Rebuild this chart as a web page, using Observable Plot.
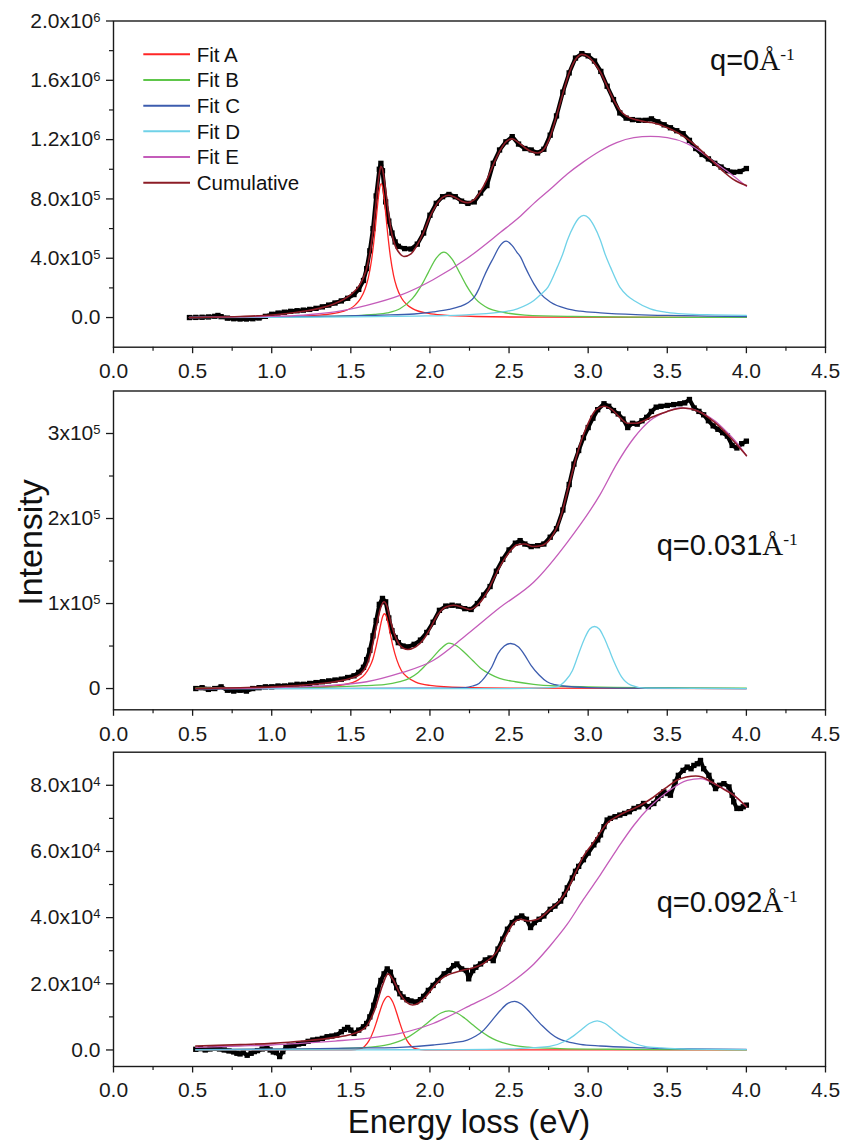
<!DOCTYPE html>
<html><head><meta charset="utf-8">
<script src="https://cdn.jsdelivr.net/npm/d3@7"></script>
<script src="https://cdn.jsdelivr.net/npm/@observablehq/plot@0.6"></script>
<style>
body{margin:0;background:#fff;}
#wrap{position:relative;width:844px;height:1141px;background:#fff;overflow:hidden;}
#wrap svg{position:absolute;left:0;}
svg.pn text{font-size:21px;}
</style></head><body><div id="wrap"></div>
<script>
// ---------- shared axis data ----------
const xTicks = [0, 0.5, 1, 1.5, 2, 2.5, 3, 3.5, 4, 4.5];
const xMinor = [0.25, 0.75, 1.25, 1.75, 2.25, 2.75, 3.25, 3.75, 4.25];
const seriesNames = ["Fit A", "Fit B", "Fit C", "Fit D", "Fit E", "Cumulative"];
const seriesColors = ["#ff2626", "#5ec64a", "#3c5cae", "#70d2e8", "#c45cba", "#8c1c26"];

// ---------- panel 1 : q = 0 (intensity in units of 1e5) ----------
const p1Unit = 1e5;
const p1Label = "q=0";
const p1YTicks = [0, 400000, 800000, 1200000, 1600000, 2000000];
const p1YLabels = ["0.0", "4.0x10^5", "8.0x10^5", "1.2x10^6", "1.6x10^6", "2.0x10^6"];
const p1YMinor = [200000, 600000, 1000000, 1400000, 1800000];
const p1YDomain = [-200000, 2000000];
const p1Data = [[0.48,0.0],[0.52,0.01],[0.56,0.02],[0.60,0.04],[0.64,0.08],[0.66,0.14],[0.68,0.06],[0.72,-0.04],[0.76,-0.08],[0.80,-0.1],[0.84,-0.1],[0.88,-0.08],[0.92,-0.03],[0.96,0.08],[1.00,0.22],[1.04,0.3],[1.08,0.36],[1.12,0.42],[1.16,0.46],[1.20,0.5],[1.24,0.55],[1.28,0.62],[1.32,0.72],[1.36,0.84],[1.40,0.98],[1.44,1.12],[1.48,1.3],[1.52,1.55],[1.55,1.9],[1.58,2.5],[1.60,3.3],[1.62,4.5],[1.64,6.0],[1.66,8.2],[1.68,10.0],[1.69,10.4],[1.70,9.9],[1.72,7.8],[1.74,6.5],[1.76,5.7],[1.78,5.1],[1.80,4.8],[1.84,4.65],[1.88,4.62],[1.92,4.95],[1.96,5.7],[2.00,6.9],[2.04,7.7],[2.08,8.15],[2.12,8.3],[2.16,8.15],[2.20,7.85],[2.24,7.7],[2.28,7.8],[2.32,8.4],[2.36,8.9],[2.40,10.4],[2.44,11.3],[2.48,11.85],[2.52,12.2],[2.56,11.7],[2.60,11.4],[2.64,11.3],[2.68,11.1],[2.72,11.35],[2.76,12.3],[2.80,13.6],[2.84,15.2],[2.88,16.5],[2.92,17.5],[2.96,17.8],[3.00,17.65],[3.04,17.3],[3.08,16.6],[3.12,15.6],[3.16,14.7],[3.20,13.8],[3.24,13.45],[3.28,13.35],[3.32,13.3],[3.36,13.3],[3.40,13.4],[3.44,13.2],[3.48,13.0],[3.52,12.8],[3.56,12.6],[3.60,12.4],[3.64,11.95],[3.68,11.4],[3.72,11.0],[3.76,10.7],[3.80,10.4],[3.84,10.15],[3.88,9.9],[3.92,9.8],[3.96,9.85],[4.00,10.05]];
const p1FitA = [[0.48,0.017],[1.0,0.053],[1.3,0.162],[1.45,0.413],[1.53,0.873],[1.56,1.254],[1.59,1.92],[1.61,2.66],[1.63,3.81],[1.65,5.55],[1.66,6.62],[1.67,7.70],[1.68,8.59],[1.692,9.03],[1.70,8.83],[1.71,8.10],[1.72,7.06],[1.73,5.96],[1.75,4.11],[1.77,2.85],[1.79,2.04],[1.82,1.32],[1.85,0.913],[1.89,0.604],[1.99,0.277],[2.09,0.157],[2.29,0.070],[2.7,0.025],[4.0,0.005]];
const p1FitB = [[0.48,0.017],[1.0,0.036],[1.3,0.067],[1.5,0.118],[1.65,0.207],[1.73,0.316],[1.81,0.59],[1.89,1.29],[1.95,2.24],[1.99,3.05],[2.04,4.01],[2.088,4.41],[2.14,3.94],[2.19,2.97],[2.23,2.17],[2.29,1.24],[2.37,0.62],[2.45,0.38],[2.6,0.17],[2.9,0.07],[3.3,0.03],[4.0,0.012]];
const p1FitC = [[0.48,0.02],[1.0,0.05],[1.4,0.1],[1.7,0.16],[1.9,0.24],[2.02,0.38],[2.12,0.55],[2.19,0.75],[2.24,1.0],[2.28,1.37],[2.31,1.95],[2.34,2.72],[2.37,3.4],[2.40,4.0],[2.44,4.8],[2.482,5.15],[2.52,4.85],[2.55,4.4],[2.573,4.07],[2.60,3.45],[2.63,2.8],[2.657,2.27],[2.70,1.6],[2.763,1.03],[2.868,0.59],[2.95,0.43],[3.078,0.32],[3.3,0.2],[3.5,0.14],[3.75,0.1],[4.0,0.07]];
const p1FitD = [[0.48,0.0],[1.0,0.02],[1.5,0.05],[1.9,0.1],[2.2,0.17],[2.446,0.36],[2.552,0.59],[2.657,1.15],[2.70,1.55],[2.746,2.05],[2.805,3.4],[2.84,4.3],[2.868,5.2],[2.91,6.2],[2.94,6.7],[2.973,6.89],[3.005,6.7],[3.036,6.2],[3.078,5.2],[3.106,4.3],[3.141,3.4],[3.2,2.05],[3.25,1.45],[3.289,1.15],[3.393,0.59],[3.5,0.35],[3.6,0.25],[3.8,0.18],[4.0,0.14]];
const p1FitE = [[0.48,0.0],[0.8,0.04],[1.0,0.08],[1.2,0.17],[1.4,0.38],[1.6,0.82],[1.81,1.49],[2.02,2.55],[2.236,4.0],[2.446,5.75],[2.573,6.85],[2.657,7.7],[2.76,8.65],[2.868,9.68],[2.97,10.5],[3.078,11.25],[3.18,11.8],[3.289,12.13],[3.394,12.22],[3.5,12.13],[3.626,11.73],[3.71,11.2],[3.795,10.5],[3.9,9.7],[4.0,8.85]];
const p1Cum = [[0.48,0.0],[0.6,0.02],[0.8,0.07],[1.0,0.17],[1.1,0.27],[1.2,0.42],[1.3,0.62],[1.4,0.95],[1.45,1.2],[1.5,1.55],[1.55,2.1],[1.58,2.7],[1.60,3.3],[1.62,4.3],[1.64,5.8],[1.66,7.8],[1.68,9.7],[1.69,10.2],[1.70,10.0],[1.72,8.6],[1.74,6.9],[1.76,5.6],[1.78,4.85],[1.80,4.45],[1.835,4.12],[1.88,4.3],[1.92,4.9],[1.96,5.75],[2.0,6.8],[2.04,7.6],[2.08,8.1],[2.12,8.25],[2.16,8.1],[2.2,7.85],[2.24,7.75],[2.28,7.95],[2.32,8.5],[2.36,9.3],[2.40,10.3],[2.44,11.2],[2.48,11.85],[2.52,12.05],[2.56,11.8],[2.60,11.45],[2.64,11.2],[2.68,11.1],[2.72,11.35],[2.76,12.2],[2.80,13.6],[2.84,15.1],[2.88,16.5],[2.92,17.4],[2.96,17.75],[3.00,17.6],[3.04,17.15],[3.08,16.5],[3.12,15.6],[3.16,14.7],[3.20,14.0],[3.24,13.6],[3.28,13.4],[3.32,13.3],[3.36,13.2],[3.40,13.15],[3.44,13.05],[3.50,12.8],[3.56,12.5],[3.62,12.1],[3.68,11.6],[3.74,11.0],[3.80,10.4],[3.86,9.8],[3.92,9.3],[4.0,8.9]];

// ---------- panel 2 : q = 0.031 (units of 1e5) ----------
const p2Unit = 1e5;
const p2Label = "q=0.031";
const p2YTicks = [0, 100000, 200000, 300000];
const p2YLabels = ["0", "1x10^5", "2x10^5", "3x10^5"];
const p2YMinor = [50000, 150000, 250000];
const p2YDomain = [-25000, 350000];
const p2Data = [[0.52,0.0],[0.56,0.01],[0.60,-0.01],[0.64,0.0],[0.68,0.02],[0.72,-0.02],[0.76,-0.03],[0.80,-0.02],[0.84,-0.03],[0.88,0.0],[0.92,0.01],[0.96,0.02],[1.00,0.02],[1.04,0.03],[1.08,0.03],[1.12,0.04],[1.16,0.05],[1.20,0.05],[1.24,0.06],[1.28,0.07],[1.32,0.08],[1.36,0.09],[1.40,0.1],[1.44,0.11],[1.48,0.13],[1.52,0.15],[1.55,0.19],[1.58,0.25],[1.60,0.34],[1.62,0.45],[1.64,0.62],[1.66,0.8],[1.68,0.99],[1.70,1.06],[1.72,1.02],[1.74,0.83],[1.76,0.68],[1.78,0.6],[1.80,0.54],[1.83,0.5],[1.86,0.49],[1.90,0.52],[1.94,0.57],[1.98,0.66],[2.02,0.78],[2.06,0.92],[2.10,0.97],[2.14,0.98],[2.18,0.97],[2.22,0.94],[2.26,0.93],[2.30,1.0],[2.34,1.1],[2.38,1.2],[2.42,1.38],[2.46,1.52],[2.50,1.63],[2.54,1.71],[2.57,1.74],[2.60,1.70],[2.64,1.67],[2.68,1.68],[2.72,1.70],[2.76,1.78],[2.80,1.88],[2.84,2.1],[2.88,2.4],[2.91,2.64],[2.94,2.8],[2.97,2.95],[3.00,3.07],[3.03,3.18],[3.06,3.28],[3.10,3.35],[3.13,3.32],[3.16,3.27],[3.19,3.23],[3.22,3.17],[3.25,3.07],[3.28,3.12],[3.31,3.11],[3.34,3.15],[3.37,3.19],[3.40,3.26],[3.43,3.31],[3.46,3.32],[3.50,3.33],[3.54,3.34],[3.58,3.35],[3.61,3.36],[3.64,3.40],[3.67,3.30],[3.70,3.26],[3.73,3.22],[3.76,3.15],[3.79,3.09],[3.82,3.05],[3.85,3.01],[3.88,2.97],[3.91,2.86],[3.94,2.83],[3.97,2.88],[4.00,2.91]];
const p2FitA = [[0.52,0.002],[1.0,0.006],[1.3,0.018],[1.45,0.043],[1.55,0.105],[1.59,0.17],[1.62,0.26],[1.64,0.35],[1.66,0.50],[1.673,0.61],[1.683,0.70],[1.693,0.79],[1.703,0.856],[1.713,0.88],[1.723,0.856],[1.733,0.79],[1.743,0.70],[1.753,0.61],[1.766,0.50],[1.79,0.34],[1.82,0.21],[1.86,0.13],[1.91,0.075],[2.0,0.037],[2.2,0.013],[2.6,0.004],[4.0,0.0]];
const p2FitB = [[0.52,0.005],[1.0,0.01],[1.4,0.02],[1.6,0.035],[1.71,0.045],[1.81,0.08],[1.87,0.12],[1.92,0.18],[1.97,0.27],[2.02,0.37],[2.07,0.47],[2.12,0.535],[2.17,0.5],[2.22,0.42],[2.27,0.33],[2.32,0.24],[2.38,0.17],[2.44,0.12],[2.54,0.08],[2.655,0.05],[2.8,0.03],[3.0,0.02],[3.5,0.01],[4.0,0.005]];
const p2FitC = [[0.52,0.0],[1.5,0.002],[2.0,0.004],[2.225,0.012],[2.27,0.03],[2.31,0.06],[2.35,0.14],[2.39,0.25],[2.43,0.41],[2.47,0.5],[2.51,0.53],[2.56,0.49],[2.60,0.39],[2.64,0.27],[2.69,0.16],[2.74,0.08],[2.79,0.045],[2.84,0.03],[3.0,0.012],[3.4,0.004],[4.0,0.0]];
const p2FitD = [[0.52,0.0],[2.5,0.0],[2.75,0.01],[2.8,0.02],[2.86,0.1],[2.90,0.21],[2.94,0.41],[2.98,0.6],[3.01,0.7],[3.04,0.73],[3.07,0.7],[3.10,0.6],[3.13,0.47],[3.16,0.33],[3.21,0.14],[3.27,0.04],[3.36,0.005],[4.0,0.0]];
const p2FitE = [[0.52,0.0],[1.0,0.01],[1.39,0.04],[1.60,0.08],[1.81,0.18],[2.02,0.33],[2.23,0.63],[2.44,0.95],[2.655,1.25],[2.868,1.72],[3.078,2.29],[3.18,2.64],[3.29,2.95],[3.39,3.15],[3.5,3.26],[3.58,3.30],[3.65,3.29],[3.71,3.25],[3.8,3.15],[3.87,3.03],[3.94,2.89],[4.0,2.74]];
const p2Cum = [[0.52,0.0],[0.8,0.01],[1.0,0.02],[1.2,0.04],[1.4,0.08],[1.5,0.12],[1.56,0.17],[1.60,0.27],[1.63,0.45],[1.66,0.72],[1.69,0.96],[1.71,1.02],[1.73,0.96],[1.75,0.8],[1.78,0.62],[1.81,0.51],[1.86,0.46],[1.91,0.49],[1.96,0.58],[2.0,0.7],[2.05,0.87],[2.1,0.96],[2.15,0.98],[2.2,0.96],[2.25,0.93],[2.3,0.98],[2.35,1.1],[2.4,1.28],[2.45,1.46],[2.5,1.6],[2.55,1.69],[2.6,1.7],[2.65,1.67],[2.7,1.68],[2.76,1.76],[2.82,1.98],[2.88,2.4],[2.94,2.82],[3.0,3.12],[3.05,3.28],[3.1,3.32],[3.15,3.28],[3.2,3.19],[3.25,3.12],[3.3,3.12],[3.4,3.19],[3.5,3.26],[3.6,3.30],[3.7,3.26],[3.8,3.13],[3.9,2.95],[4.0,2.74]];

// ---------- panel 3 : q = 0.092 (units of 1e4) ----------
const p3Unit = 1e4;
const p3Label = "q=0.092";
const p3YTicks = [0, 20000, 40000, 60000, 80000];
const p3YLabels = ["0.0", "2.0x10^4", "4.0x10^4", "6.0x10^4", "8.0x10^4"];
const p3YMinor = [10000, 30000, 50000, 70000];
const p3YDomain = [-5000, 90000];
const p3Data = [[0.52,0.02],[0.55,0.04],[0.58,0.0],[0.61,0.03],[0.64,0.05],[0.67,0.03],[0.70,0.0],[0.73,-0.03],[0.76,-0.06],[0.78,-0.1],[0.80,-0.12],[0.82,-0.08],[0.845,-0.16],[0.87,-0.1],[0.89,-0.05],[0.91,-0.02],[0.94,0.03],[0.97,0.05],[0.99,0.0],[1.01,-0.06],[1.03,-0.08],[1.05,-0.2],[1.07,-0.05],[1.09,0.08],[1.11,0.12],[1.14,0.14],[1.17,0.18],[1.20,0.2],[1.23,0.26],[1.26,0.3],[1.29,0.32],[1.32,0.35],[1.35,0.4],[1.38,0.42],[1.41,0.45],[1.44,0.55],[1.46,0.62],[1.48,0.68],[1.50,0.6],[1.52,0.5],[1.55,0.6],[1.58,0.7],[1.60,0.8],[1.62,1.0],[1.645,1.35],[1.67,1.8],[1.69,2.1],[1.71,2.3],[1.73,2.45],[1.75,2.35],[1.77,2.1],[1.79,1.88],[1.81,1.7],[1.83,1.6],[1.855,1.52],[1.88,1.48],[1.91,1.45],[1.94,1.52],[1.96,1.62],[1.99,1.8],[2.02,1.95],[2.05,2.1],[2.09,2.3],[2.12,2.4],[2.15,2.55],[2.17,2.6],[2.20,2.45],[2.23,2.4],[2.245,2.15],[2.27,2.4],[2.29,2.5],[2.32,2.6],[2.35,2.72],[2.38,2.78],[2.40,2.7],[2.43,3.05],[2.46,3.35],[2.49,3.65],[2.52,3.85],[2.55,3.98],[2.58,4.05],[2.61,3.95],[2.636,3.7],[2.66,3.85],[2.69,3.95],[2.72,4.05],[2.76,4.25],[2.79,4.35],[2.826,4.5],[2.85,4.7],[2.868,4.9],[2.90,5.2],[2.92,5.4],[2.94,5.55],[2.97,5.75],[3.00,5.95],[3.036,6.2],[3.06,6.35],[3.078,6.5],[3.10,6.75],[3.12,6.95],[3.14,7.0],[3.17,7.05],[3.20,7.1],[3.23,7.15],[3.26,7.2],[3.29,7.3],[3.32,7.35],[3.35,7.45],[3.38,7.35],[3.415,7.45],[3.44,7.6],[3.46,7.7],[3.478,7.8],[3.50,7.75],[3.52,7.7],[3.55,8.1],[3.57,8.3],[3.60,8.45],[3.626,8.55],[3.65,8.5],[3.668,8.6],[3.69,8.65],[3.71,8.75],[3.73,8.5],[3.763,8.3],[3.78,8.1],[3.805,7.9],[3.83,8.0],[3.858,8.05],[3.89,7.95],[3.91,7.7],[3.92,7.5],[3.94,7.3],[3.963,7.3],[3.98,7.35],[4.0,7.4]];
const p3FitA = [[0.52,0.0],[1.4,0.0],[1.5,0.002],[1.555,0.03],[1.585,0.1],[1.615,0.28],[1.645,0.6],[1.66,0.81],[1.675,1.04],[1.705,1.45],[1.735,1.62],[1.765,1.45],[1.795,1.04],[1.81,0.81],[1.825,0.6],[1.855,0.28],[1.885,0.1],[1.915,0.03],[1.97,0.003],[2.1,0.0],[4.0,0.0]];
const p3FitB = [[0.52,0.009],[1.12,0.022],[1.42,0.042],[1.62,0.084],[1.72,0.145],[1.82,0.29],[1.87,0.412],[1.92,0.572],[1.97,0.762],[2.02,0.959],[2.07,1.117],[2.12,1.18],[2.17,1.117],[2.22,0.959],[2.27,0.762],[2.32,0.572],[2.37,0.412],[2.42,0.29],[2.52,0.145],[2.62,0.084],[2.82,0.042],[3.12,0.022],[3.72,0.009],[4.0,0.007]];
const p3FitC = [[0.52,0.01],[1.2,0.03],[1.6,0.06],[1.81,0.08],[2.02,0.15],[2.15,0.22],[2.236,0.3],[2.29,0.42],[2.34,0.6],[2.39,0.88],[2.446,1.2],[2.49,1.4],[2.535,1.47],[2.58,1.38],[2.62,1.2],[2.657,1.0],[2.71,0.73],[2.763,0.5],[2.81,0.35],[2.868,0.25],[2.95,0.17],[3.078,0.12],[3.3,0.07],[3.5,0.04],[4.0,0.02]];
const p3FitD = [[0.52,0.0],[1.5,0.005],[2.2,0.01],[2.5,0.03],[2.657,0.07],[2.757,0.11],[2.857,0.27],[2.912,0.44],[2.957,0.61],[3.007,0.8],[3.057,0.88],[3.107,0.8],[3.157,0.61],[3.202,0.44],[3.257,0.27],[3.357,0.11],[3.46,0.06],[3.6,0.03],[3.8,0.015],[4.0,0.01]];
const p3FitE = [[0.52,0.08],[0.8,0.12],[1.0,0.15],[1.18,0.2],[1.4,0.27],[1.6,0.35],[1.81,0.5],[2.02,0.8],[2.236,1.3],[2.446,1.82],[2.573,2.25],[2.657,2.6],[2.76,3.15],[2.868,3.8],[2.97,4.55],[3.078,5.3],[3.18,6.05],[3.29,6.8],[3.39,7.35],[3.5,7.8],[3.626,8.15],[3.71,8.2],[3.816,8.0],[3.92,7.7],[4.0,7.35]];
const p3Cum = [[0.52,0.12],[0.8,0.16],[1.0,0.2],[1.2,0.27],[1.4,0.38],[1.5,0.47],[1.55,0.55],[1.6,0.72],[1.65,1.2],[1.7,1.95],[1.735,2.3],[1.77,2.1],[1.81,1.7],[1.85,1.45],[1.89,1.36],[1.93,1.42],[1.98,1.65],[2.03,1.95],[2.08,2.18],[2.13,2.3],[2.2,2.4],[2.27,2.48],[2.35,2.65],[2.42,2.95],[2.48,3.45],[2.53,3.85],[2.57,3.95],[2.62,3.9],[2.68,3.95],[2.76,4.25],[2.82,4.5],[2.87,4.85],[2.92,5.35],[2.97,5.85],[3.03,6.25],[3.08,6.6],[3.13,6.9],[3.18,7.05],[3.24,7.2],[3.29,7.3],[3.35,7.45],[3.4,7.6],[3.45,7.78],[3.5,7.95],[3.56,8.15],[3.62,8.25],[3.68,8.28],[3.72,8.25],[3.78,8.1],[3.85,7.9],[3.92,7.7],[4.0,7.35]];

// ---------- drawing ----------
const FONT = "'Liberation Sans', Arial, Helvetica, sans-serif";
const wrap = document.getElementById("wrap");
const rows = (pairs, unit) => pairs.map(([x, y]) => ({x, y: y * unit}));

function superscripts(svg) {
  svg.querySelectorAll("text").forEach(t => {
    const s = t.textContent;
    if (!s.includes("^")) return;
    const [base, exp] = s.split("^");
    t.textContent = base;
    const ts = document.createElementNS("http://www.w3.org/2000/svg", "tspan");
    ts.setAttribute("dy", "-0.45em");
    ts.setAttribute("style", "font-size:13px");
    ts.textContent = exp;
    t.appendChild(ts);
  });
}

function panel(cfg) {
  const fits = [cfg.fitA, cfg.fitB, cfg.fitC, cfg.fitD, cfg.fitE];
  const dataRows = rows(cfg.data, cfg.unit);
  const marks = [
    Plot.line(dataRows, {x: "x", y: "y", stroke: "#000", strokeWidth: 4}),
    Plot.dot(dataRows, {x: "x", y: "y", symbol: "square", r: 3, fill: "#000", stroke: "none"}),
    ...fits.map((f, i) => Plot.line(rows(f, cfg.unit), {x: "x", y: "y", stroke: seriesColors[i], strokeWidth: 1.3, curve: "monotone-x"})),
    Plot.line(rows(cfg.cum, cfg.unit), {x: "x", y: "y", stroke: seriesColors[5], strokeWidth: 1.6, curve: "monotone-x"}),
    Plot.frame({stroke: "#1a1a1a", strokeWidth: 1.4}),
    Plot.axisX({ticks: xTicks, tickFormat: d3.format(".1f"), tickSize: 6.5, tickPadding: 9.5, fontSize: 21, strokeWidth: 1.3, label: null}),
    Plot.axisX({ticks: xMinor, tickFormat: () => "", tickSize: 4, strokeWidth: 1.2, label: null}),
    Plot.axisY({ticks: cfg.yTicks, tickFormat: d => cfg.yLabels[cfg.yTicks.indexOf(d)], tickSize: 7, tickPadding: 6, fontSize: 21, strokeWidth: 1.3, label: null}),
    Plot.axisY({ticks: cfg.yMinor, tickFormat: () => "", tickSize: 4, strokeWidth: 1.2, label: null})
  ];
  const svg = Plot.plot({
    width: 844, height: cfg.height,
    marginLeft: 113, marginRight: 19, marginTop: cfg.mt, marginBottom: cfg.mb,
    x: {domain: [0, 4.5], label: null},
    y: {domain: cfg.yDomain, label: null},
    className: "pn",
    style: {fontFamily: FONT, fontSize: "21px", color: "#1a1a1a", background: "transparent", overflow: "visible"},
    marks
  });
  svg.classList.add("pn");
  superscripts(svg);
  svg.style.top = cfg.top + "px";
  wrap.appendChild(svg);
}

panel({unit: p1Unit, data: p1Data, fitA: p1FitA, fitB: p1FitB, fitC: p1FitC, fitD: p1FitD, fitE: p1FitE, cum: p1Cum,
  yTicks: p1YTicks, yLabels: p1YLabels, yMinor: p1YMinor, yDomain: p1YDomain, top: 0, height: 382, mt: 20.5, mb: 35.3});
panel({unit: p2Unit, data: p2Data, fitA: p2FitA, fitB: p2FitB, fitC: p2FitC, fitD: p2FitD, fitE: p2FitE, cum: p2Cum,
  yTicks: p2YTicks, yLabels: p2YLabels, yMinor: p2YMinor, yDomain: p2YDomain, top: 382, height: 360, mt: 8.5, mb: 32.7});
panel({unit: p3Unit, data: p3Data, fitA: p3FitA, fitB: p3FitB, fitC: p3FitC, fitD: p3FitD, fitE: p3FitE, cum: p3Cum,
  yTicks: p3YTicks, yLabels: p3YLabels, yMinor: p3YMinor, yDomain: p3YDomain, top: 742, height: 366, mt: 9.7, mb: 42});

// ---------- overlay: legend, annotations, axis titles ----------
const NS = "http://www.w3.org/2000/svg";
const ov = document.createElementNS(NS, "svg");
ov.setAttribute("width", 844); ov.setAttribute("height", 1141);
ov.style.top = "0px"; ov.style.pointerEvents = "none";
let html = "";
seriesNames.forEach((name, i) => {
  const y = 54.3 + i * 25.68;
  html += `<line x1="143.3" x2="190" y1="${y}" y2="${y}" stroke="${seriesColors[i]}" stroke-width="2"/>`;
  html += `<text x="196.7" y="${y + 7.4}" font-family="${FONT}" font-size="20.5" fill="#111">${name}</text>`;
});
const qLabels = [[p1Label, 710, 70], [p2Label, 656.7, 555], [p3Label, 656.7, 911.7]];
qLabels.forEach(([lab, x, y]) => {
  html += `<text x="${x}" y="${y}" font-family="${FONT}" font-size="29" fill="#111">${lab}<tspan font-family="'Liberation Serif', 'Times New Roman', serif" font-size="29">Å</tspan><tspan font-family="'Liberation Serif', 'Times New Roman', serif" font-size="17.5" dy="-10">-1</tspan></text>`;
});
html += `<text transform="translate(41.7,542.5) rotate(-90)" text-anchor="middle" font-family="${FONT}" font-size="34" fill="#111">Intensity</text>`;
html += `<text x="469" y="1133" text-anchor="middle" font-family="${FONT}" font-size="32.8" fill="#111">Energy loss (eV)</text>`;
ov.innerHTML = html;
wrap.appendChild(ov);
</script></body></html>
